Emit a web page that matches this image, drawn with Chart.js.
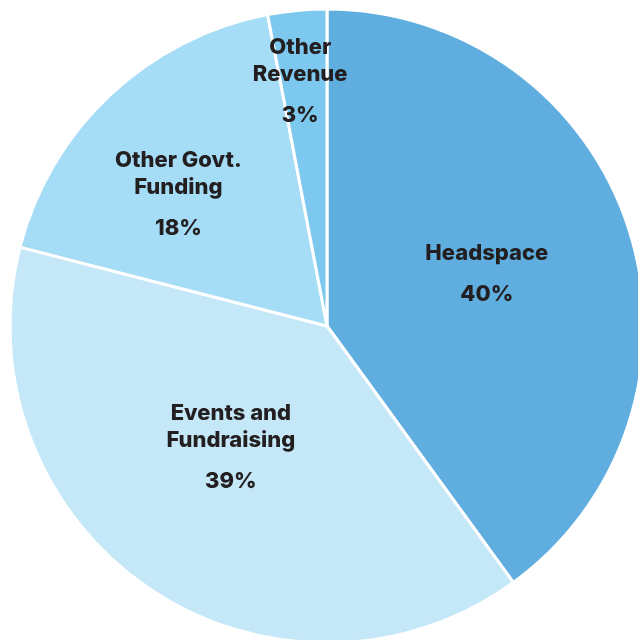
<!DOCTYPE html>
<html>
<head>
<meta charset="utf-8">
<script src="https://cdn.jsdelivr.net/npm/chart.js@4"></script>
<style>
    html, body { margin: 0; padding: 0; background: #fff; overflow: hidden; width: 638px; height: 640px; }
    #wrap { position: absolute; left: 0; top: 0; width: 654px; height: 652px; }
</style>
</head>
<body>
<div id="wrap"><canvas id="revenueChart"></canvas></div>
<script>
// data
const categories = ['Headspace', 'Events and Fundraising', 'Other Govt. Funding', 'Other Revenue'];
const labelLines = [['Headspace'], ['Events and', 'Fundraising'], ['Other Govt.', 'Funding'], ['Other', 'Revenue']];
const shares = [40, 39, 18, 3];

// styling
const sliceColors = ['#5faedf', '#c5e8f9', '#a5dcf6', '#7dc8ee'];
// where each label block sits: fraction through the slice angle, fraction of radius
const labelAnchor = [
    { ang: 0.50, rad: 0.53 },
    { ang: 0.53, rad: 0.488 },
    { ang: 0.42, rad: 0.627 },
    { ang: 0.42, rad: 0.775 }
];

const sliceLabels = {
    id: 'sliceLabels',
    afterDatasetsDraw(chart) {
        const ctx = chart.ctx;
        const arcs = chart.getDatasetMeta(0).data;
        const total = shares.reduce((a, b) => a + b, 0);
        ctx.save();
        ctx.fillStyle = '#231f20';
        ctx.textAlign = 'center';
        ctx.textBaseline = 'middle';
        ctx.font = '800 22px Inter, "Noto Sans", sans-serif';
        arcs.forEach((arc, i) => {
            const p = arc.getProps(['x', 'y', 'startAngle', 'endAngle', 'outerRadius'], true);
            const a = p.startAngle + (p.endAngle - p.startAngle) * labelAnchor[i].ang;
            const r = p.outerRadius * labelAnchor[i].rad;
            const cx = p.x + Math.cos(a) * r;
            const cy = p.y + Math.sin(a) * r;
            const lines = labelLines[i];
            const span = (lines.length - 1) * 27 + 41;
            let y = cy - span / 2;
            lines.forEach((txt, k) => {
                ctx.fillText(txt, cx, y + k * 27);
            });
            const pct = Math.round(shares[i] / total * 100) + '%';
            ctx.fillText(pct, cx, y + (lines.length - 1) * 27 + 41);
        });
        ctx.restore();
    }
};

const ctxPie = document.getElementById('revenueChart').getContext('2d');
new Chart(ctxPie, {
    type: 'pie',
    data: {
        labels: categories,
        datasets: [{
            data: shares,
            backgroundColor: sliceColors,
            borderColor: '#ffffff',
            borderWidth: 3
        }]
    },
    options: {
        responsive: true,
        maintainAspectRatio: false,
        animation: false,
        radius: 317,
        layout: { padding: 0 },
        plugins: {
            legend: { display: false },
            tooltip: { enabled: false }
        }
    },
    plugins: [sliceLabels]
});
</script>
</body>
</html>
